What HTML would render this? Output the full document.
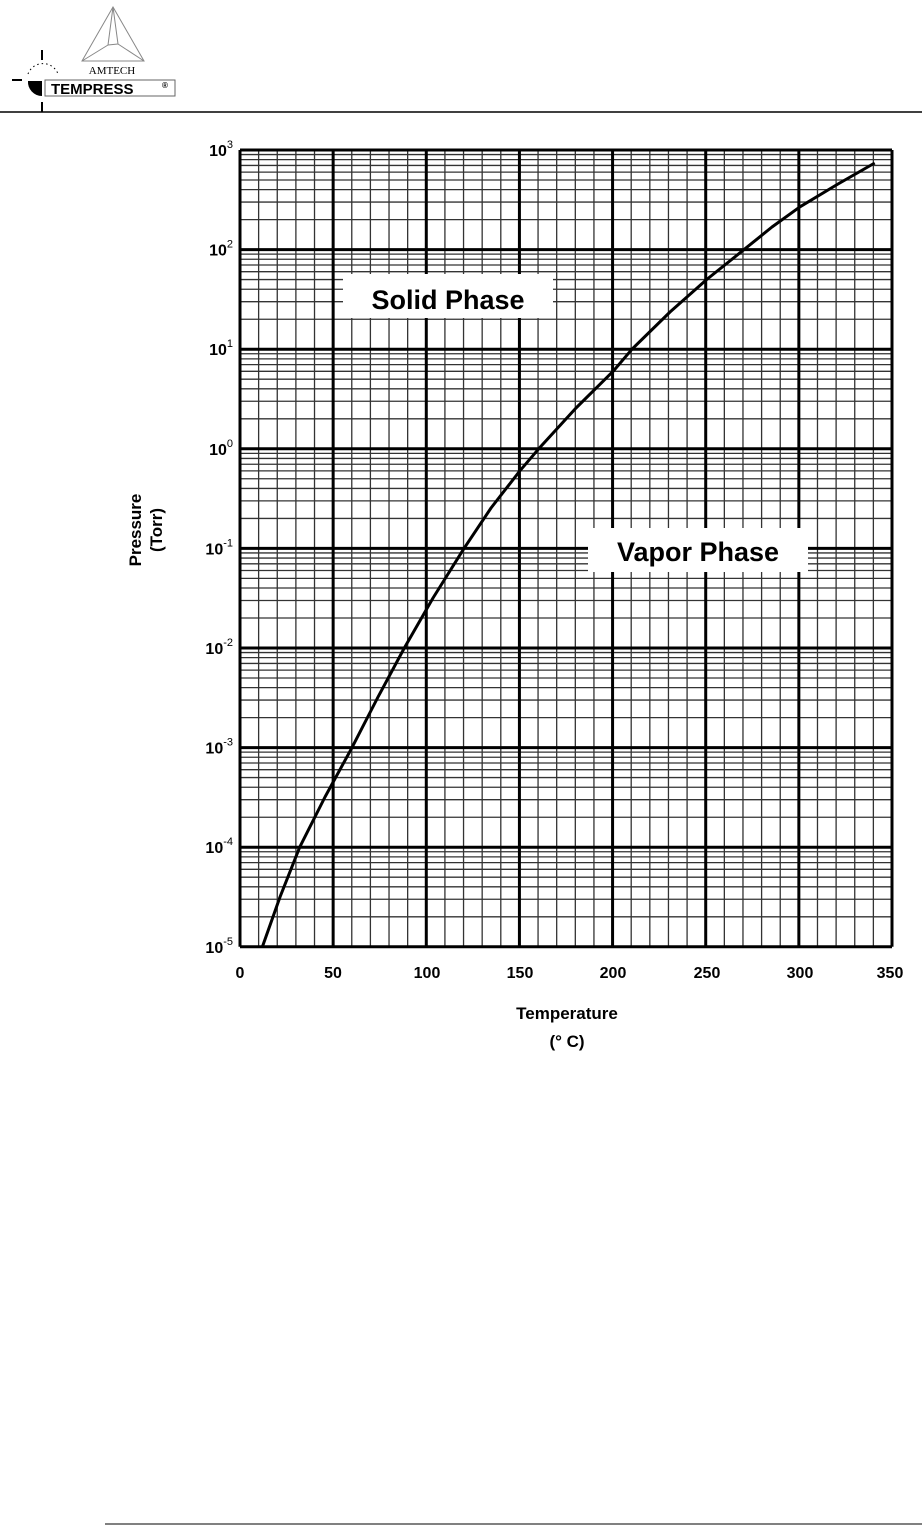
<!DOCTYPE html>
<html><head><meta charset="utf-8"><style>
body{margin:0;background:#fff;width:922px;height:1526px;overflow:hidden}
svg{display:block}
text{font-family:"Liberation Sans",sans-serif;font-weight:bold}
</style></head><body>
<svg id="s" width="922" height="1526" viewBox="0 0 922 1526" xmlns="http://www.w3.org/2000/svg">
<!-- header -->
<line x1="0" y1="112" x2="922" y2="112" stroke="#000" stroke-width="1.5"/>
<polygon points="113,7 82,61 144,61" fill="none" stroke="#888" stroke-width="1"/>
<polyline points="113,7 108,45 82,61 M" fill="none" stroke="#888"/>
<polyline points="113,7 118,44 144,61" fill="none" stroke="#888"/>
<line x1="108" y1="45" x2="118" y2="44" stroke="#888"/>
<text x="112" y="74" font-size="11" text-anchor="middle" style="font-family:'Liberation Serif',serif;font-weight:normal">AMTECH</text>
<rect x="45" y="80" width="130" height="16" fill="none" stroke="#666" stroke-width="1"/>
<text x="51" y="94" font-size="15">TEMPRESS</text><text x="162" y="88" font-size="8">®</text>
<path d="M28,81 L42,81 L42,96 A14,14 0 0 1 28,81Z" fill="#000"/>
<line x1="12" y1="80" x2="22" y2="80" stroke="#000" stroke-width="2"/>
<line x1="42" y1="50" x2="42" y2="60" stroke="#000" stroke-width="2"/>
<line x1="42" y1="102" x2="42" y2="112" stroke="#000" stroke-width="2"/>
<path d="M28,74 A16,16 0 0 1 58,74" fill="none" stroke="#000" stroke-dasharray="1.5,3"/>
<g id="grid"></g>
<polyline fill="none" stroke="#000" stroke-width="3" stroke-linejoin="round" points="262.4,946.8 280,897 299.7,847.2 325,797 352,747.6 378,697 404.3,648 433,598 464,548.4 491,508 520,470.7 538.7,448.8 576,408 613.3,371.1 632,349.2 670,312 706.7,279.5 744,249.6 772,227 800,206.8 838,184 874.7,163"/>
<rect x="343" y="274" width="210" height="44" fill="#fff"/>
<text x="448" y="309" font-size="27" text-anchor="middle">Solid Phase</text>
<rect x="588" y="528" width="220" height="44" fill="#fff"/>
<text x="698" y="561" font-size="27" text-anchor="middle">Vapor Phase</text>
<g font-size="16" text-anchor="middle">
<text x="240" y="978">0</text><text x="333" y="978">50</text><text x="427" y="978">100</text><text x="520" y="978">150</text><text x="613" y="978">200</text><text x="707" y="978">250</text><text x="800" y="978">300</text><text x="890" y="978">350</text>
<text x="567" y="1019" font-size="17">Temperature</text>
<text x="567" y="1047" font-size="17">(° C)</text>
</g>
<g font-size="17" transform="translate(148,530) rotate(-90)" text-anchor="middle">
<text x="0" y="-7">Pressure</text><text x="0" y="14">(Torr)</text>
</g>
<g id="yl" font-size="16"></g>
<line x1="105" y1="1524" x2="922" y2="1524" stroke="#000" stroke-width="1"/>
</svg>
<script>
var NS="http://www.w3.org/2000/svg",g=document.getElementById('grid'),yl=document.getElementById('yl');
var L=240,R=892,T=150,D=99.6,B=T+8*D;
function ln(x1,y1,x2,y2,w,c){var e=document.createElementNS(NS,'line');e.setAttribute('x1',x1);e.setAttribute('y1',y1);e.setAttribute('x2',x2);e.setAttribute('y2',y2);e.setAttribute('stroke',c);e.setAttribute('stroke-width',w);g.appendChild(e);}
for(var d=0;d<8;d++){for(var k=2;k<=9;k++){var y=T+(8-d)*D-Math.log10(k)*D;ln(L,y,R,y,1.3,'#333');}}
for(var i=1;i<35;i++){var x=L+i*(R-L)/35;if(i%5)ln(x,T,x,B,1.3,'#333');}
for(var d=0;d<=8;d++){var y=T+d*D;ln(L,y,R,y,3,'#000');}
for(var i=0;i<=7;i++){var x=L+i*5*(R-L)/35;ln(x,T,x,B,3,'#000');}
for(var d=0;d<=8;d++){var y=T+d*D+6;var t=document.createElementNS(NS,'text');t.setAttribute('x',233);t.setAttribute('y',y);t.setAttribute('text-anchor','end');
t.innerHTML='10<tspan dy="-8" font-size="11" font-weight="normal">'+(3-d)+'</tspan>';yl.appendChild(t);}
</script>
</body></html>
